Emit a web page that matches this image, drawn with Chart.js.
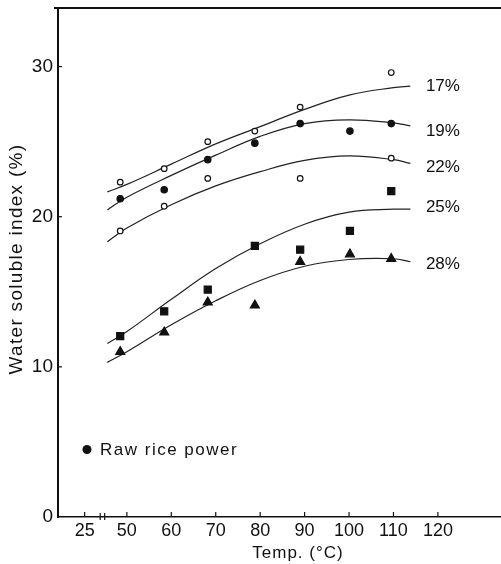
<!DOCTYPE html>
<html>
<head>
<meta charset="utf-8">
<script src="https://cdn.jsdelivr.net/npm/chart.js@4"></script>
<style>
  body { margin: 0; background: #fff; }
  #wrap { width: 501px; height: 564px; }
</style>
</head>
<body>
<div id="wrap"><canvas id="wsi-chart"></canvas></div>
<script>
// x axis is broken: the "25" tick sits at 40.5 on the plotting scale
const xTickValues = [40.5, 50, 60, 70, 80, 90, 100, 110, 120];
const xTickLabels = ['25', '50', '60', '70', '80', '90', '100', '110', '120'];
const yTickValues = [0, 10, 20, 30];

// measured points (temp, water soluble index %)
const pointTemps = [48.5, 58.4, 68.2, 78.8, 89.0, 100.2, 109.5];
const wsi17 = [22.3, 23.2, 25.0, 25.7, 27.3, null, 29.6];
const wsi19 = [21.2, 21.8, 23.8, 24.9, 26.2, 25.7, 26.2];
const wsi22 = [19.05, 20.7, 22.55, null, 22.55, null, 23.9];
const wsi25 = [12.05, 13.7, 15.15, 18.05, 17.8, 19.05, 21.7];
const wsi28 = [11.0, 12.3, 14.3, 14.1, 17.0, 17.5, 17.2];

// fitted curves
const fitTemps = [45.6, 50, 60, 70, 80, 90, 100, 110, 113.8];
const fit17 = [21.65, 22.15, 23.5, 24.85, 26.0, 27.15, 28.1, 28.6, 28.7];
const fit19 = [20.45, 21.3, 22.75, 24.1, 25.35, 26.2, 26.45, 26.25, 26.05];
const fit22 = [18.33, 19.25, 20.8, 22.05, 23.0, 23.75, 24.05, 23.8, 23.55];
const fit25 = [11.56, 12.35, 14.5, 16.55, 18.2, 19.5, 20.3, 20.5, 20.5];
const fit28 = [10.3, 11.0, 12.8, 14.4, 15.75, 16.7, 17.15, 17.2, 17.0];

const curveLabels = ['17%', '19%', '22%', '25%', '28%'];
const curveLabelValues = [28.7, 25.7, 23.3, 20.6, 16.85];
const curveLabelTemp = 117.3;

const ink = '#111';
const font = "'Liberation Sans', Arial, sans-serif";

function toXY(xs, ys) {
    return xs.map((x, i) => ({ x: x, y: ys[i] })).filter(p => p.y !== null);
}

function curve(values) {
    return {
        type: 'scatter',
        data: toXY(fitTemps, values),
        showLine: true,
        borderColor: '#222',
        borderWidth: 1.2,
        pointRadius: 0,
        tension: 0.4,
        order: 2
    };
}

function marks(values, style, radius, filled) {
    return {
        type: 'scatter',
        data: toXY(pointTemps, values),
        pointStyle: style,
        pointRadius: radius,
        pointBorderWidth: 1.2,
        pointBorderColor: ink,
        pointBackgroundColor: filled ? ink : '#fff',
        order: 1
    };
}

// axis decorations, labels and titles that sit outside the usual chart.js pieces
const decor = {
    id: 'decor',
    afterDraw(chart) {
        const c = chart.ctx;
        const area = chart.chartArea;
        const xs = chart.scales.x;
        const ys = chart.scales.y;
        c.save();
        c.strokeStyle = ink;
        c.fillStyle = ink;

        // top frame line
        c.lineWidth = 2;
        c.beginPath();
        c.moveTo(area.left - 4, area.top);
        c.lineTo(area.right, area.top);
        c.stroke();

        // inward tick marks
        c.lineWidth = 1.2;
        xTickValues.forEach(v => {
            const px = xs.getPixelForValue(v);
            c.beginPath();
            c.moveTo(px, area.bottom);
            c.lineTo(px, area.bottom - 5);
            c.stroke();
        });
        yTickValues.slice(1).forEach(v => {
            const py = ys.getPixelForValue(v);
            c.beginPath();
            c.moveTo(area.left, py);
            c.lineTo(area.left + 4, py);
            c.stroke();
        });

        // axis break marks
        [44, 45].forEach(v => {
            const px = xs.getPixelForValue(v);
            c.beginPath();
            c.moveTo(px, area.bottom - 4);
            c.lineTo(px, area.bottom + 3);
            c.stroke();
        });

        // curve labels
        c.font = '17px ' + font;
        c.textAlign = 'left';
        c.textBaseline = 'middle';
        curveLabels.forEach((txt, i) => {
            c.fillText(txt, xs.getPixelForValue(curveLabelTemp), ys.getPixelForValue(curveLabelValues[i]));
        });

        // legend
        c.beginPath();
        c.arc(87, 449.5, 4.5, 0, Math.PI * 2);
        c.fill();
        c.letterSpacing = '1.5px';
        c.fillText('Raw rice power', 100, 450);

        // axis titles
        c.letterSpacing = '1px';
        c.textAlign = 'center';
        c.fillText('Temp. (°C)', 298, 553);

        c.font = '19px ' + font;
        c.letterSpacing = '1.3px';
        c.translate(17, 259);
        c.rotate(-Math.PI / 2);
        c.fillText('Water soluble index (%)', 0, 0);
        c.restore();
    }
};

const ctx = document.getElementById('wsi-chart');

new Chart(ctx, {
    type: 'scatter',
    data: {
        datasets: [
            curve(fit17), curve(fit19), curve(fit22), curve(fit25), curve(fit28),
            marks(wsi17, 'circle', 2.8, false),
            marks(wsi19, 'circle', 3.2, true),
            marks(wsi22, 'circle', 2.8, false),
            marks(wsi25, 'rect', 5, true),
            marks(wsi28, 'triangle', 5.2, true)
        ]
    },
    options: {
        responsive: true,
        maintainAspectRatio: false,
        animation: false,
        layout: { autoPadding: false, padding: { top: 8, right: 0, left: 0, bottom: 0 } },
        plugins: {
            legend: { display: false },
            tooltip: { enabled: false }
        },
        scales: {
            x: {
                type: 'linear',
                min: 34.5,
                max: 134.2,
                grid: { display: false, drawTicks: false },
                border: { display: true, color: ink, width: 1.5 },
                afterBuildTicks: scale => {
                    scale.ticks = xTickValues.map(v => ({ value: v }));
                },
                afterFit: scale => {
                    scale.height = 47;
                    scale.paddingLeft = 0;
                    scale.paddingRight = 0;
                },
                ticks: {
                    color: ink,
                    font: { family: font, size: 18 },
                    padding: 3,
                    autoSkip: false,
                    maxRotation: 0,
                    callback: value => xTickLabels[xTickValues.indexOf(value)]
                }
            },
            y: {
                type: 'linear',
                min: 0,
                max: 33.9,
                grid: { display: false, drawTicks: false },
                border: { display: true, color: ink, width: 2 },
                afterBuildTicks: scale => {
                    scale.ticks = yTickValues.map(v => ({ value: v }));
                },
                afterFit: scale => {
                    scale.width = 58;
                    scale.paddingTop = 0;
                    scale.paddingBottom = 0;
                },
                ticks: {
                    color: ink,
                    font: { family: font, size: 19 },
                    padding: 5
                }
            }
        }
    },
    plugins: [decor]
});
</script>
</body>
</html>
